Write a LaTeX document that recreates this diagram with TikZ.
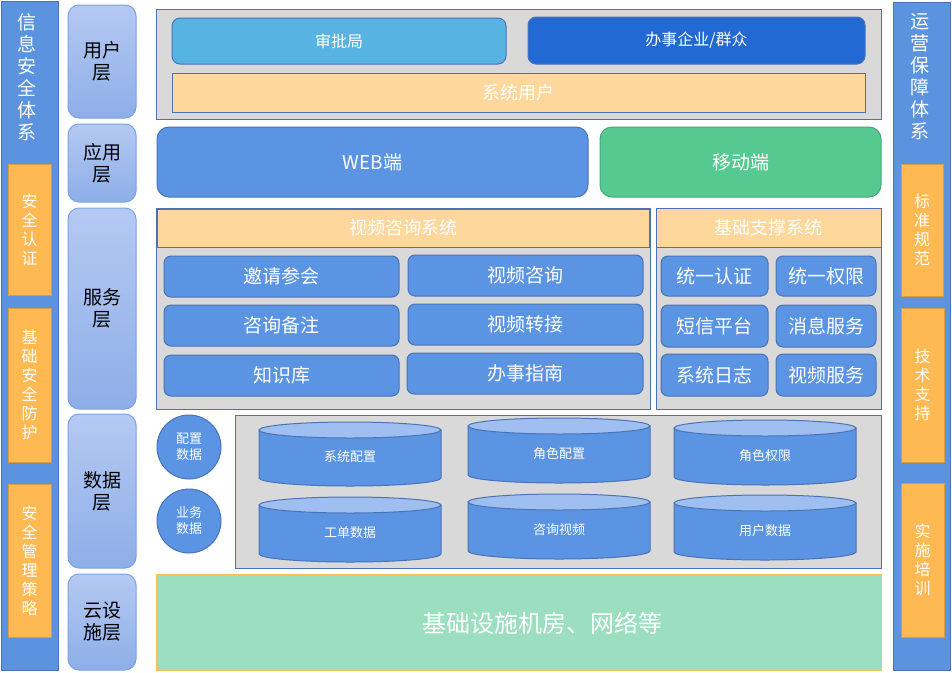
\documentclass[tikz,border=0pt]{standalone}
\usepackage{fontspec}
\setmainfont{Noto Sans CJK SC}
\definecolor{barblue}{HTML}{5B93DF}
\definecolor{barline}{HTML}{4A72B8}
\definecolor{orfill}{HTML}{FFB953}
\definecolor{orline}{HTML}{D99A45}
\definecolor{laytop}{HTML}{B5C9F2}
\definecolor{laybot}{HTML}{8EAEE8}
\definecolor{layline}{HTML}{7AA2E6}
\definecolor{graybg}{HTML}{D9D9D9}
\definecolor{frame}{HTML}{4A72B4}
\definecolor{skyblue}{HTML}{56B3E2}
\definecolor{deepblue}{HTML}{2369D3}
\definecolor{beige}{HTML}{FDD79B}
\definecolor{btnblue}{HTML}{5B94E2}
\definecolor{btnline}{HTML}{4A73B8}
\definecolor{mobgreen}{HTML}{55C98F}
\definecolor{mobline}{HTML}{48A77A}
\definecolor{cyltopc}{HTML}{9EBFEF}
\definecolor{cloudg}{HTML}{9BDFC0}
\definecolor{cloudline}{HTML}{FFBE55}
\tikzset{
  R/.style args={#1/#2/#3/#4}{anchor=north west, at={(#1,#2)},
    minimum width={(#3-#1)*1pt}, minimum height={(#4-#2)*1pt},
    inner sep=0pt, outer sep=0pt},
  sidebar/.style={draw=barline, fill=barblue, line width=1pt},
  sidetitle/.style={text=white, align=center, inner sep=0pt, font=\fontsize{19}{22}\selectfont},
  sidebox/.style={draw=orline, fill=orfill, line width=1pt, text=white, align=center,
    font=\fontsize{16}{19}\selectfont},
  layer/.style={draw=layline, top color=laytop, bottom color=laybot, rounded corners=11pt,
    line width=1pt, align=center, text=black, font=\fontsize{19}{22}\selectfont},
  panel/.style={draw=frame, fill=graybg, line width=1pt},
  header/.style={draw=frame, fill=beige, line width=1pt, text=white, font=\fontsize{18}{22}\selectfont},
  userbtn/.style={draw=btnline, rounded corners=8pt, line width=1pt, text=white,
    font=\fontsize{16}{20}\selectfont},
  appbtn/.style={draw=btnline, rounded corners=12pt, line width=1pt, text=white,
    font=\fontsize{19}{22}\selectfont},
  svc/.style={draw=btnline, fill=btnblue, rounded corners=7pt, line width=1pt, text=white,
    font=\fontsize{19}{22}\selectfont},
  datacirc/.style={circle, draw=btnline, fill=btnblue, line width=1pt, minimum size=64pt,
    inner sep=0pt, align=center, text=white, font=\fontsize{13}{16}\selectfont},
  cylbody/.style={draw=btnline, fill=btnblue, line width=1pt},
  cyltop/.style={draw=btnline, fill=cyltopc, line width=1pt},
  cyltext/.style={text=white, inner sep=0pt, font=\fontsize{13}{16}\selectfont},
  cloud/.style={draw=cloudline, fill=cloudg, line width=1pt},
  cloudtext/.style={text=white, inner sep=0pt, font=\fontsize{24}{28}\selectfont}
}
\newcommand\dbcyl[5]{%
  \path[cylbody] ({#2},{#3+8}) -- ({#2},{#4-8})
    arc[start angle=180, end angle=360, x radius=91pt, y radius=8pt]
    -- ({#2+182},{#3+8}) -- cycle;
  \path[cyltop] ({#2+91},{#3+8}) ellipse[x radius=91pt, y radius=8pt];
  \node[cyltext] (#1) at ({#2+91},{(#3+#4)/2+3}) {#5};
}
\begin{document}
\begin{tikzpicture}[x=1pt,y=-1pt]
\useasboundingbox (0,0) rectangle (952,672);
% left security bar
\node[sidebar, R=1/1/58/670] (lbar) {};
\node[sidetitle] (ltitle) at (27,77) {信\\息\\安\\全\\体\\系};
\node[sidebox, R=8/164/51/295] (l1) {安\\全\\认\\证};
\node[sidebox, R=8/308/51/462] (l2) {基\\础\\安\\全\\防\\护};
\node[sidebox, R=8/484/51/637] (l3) {安\\全\\管\\理\\策\\略};
% right operation bar
\node[sidebar, R=893/2/950/670] (rbar) {};
\node[sidetitle] (rtitle) at (920,77) {运\\营\\保\\障\\体\\系};
\node[sidebox, R=901/164/943/296] (r1) {标\\准\\规\\范};
\node[sidebox, R=901/308/944/462] (r2) {技\\术\\支\\持};
\node[sidebox, R=901/483/944/637] (r3) {实\\施\\培\\训};
% layer labels
\node[layer, R=68/5/136/118] (ly1) {用户\\层};
\node[layer, R=68/124/136/202] (ly2) {应用\\层};
\node[layer, R=68/208/136/409] (ly3) {服务\\层};
\node[layer, R=68/414/136/568] (ly4) {数据\\层};
\node[layer, R=68/574/136/670] (ly5) {云设\\施层};
% user layer
\node[panel, R=156/9/881/119] (userpanel) {};
\node[userbtn, fill=skyblue, R=172/18/506/64] (spj) {审批局};
\node[userbtn, fill=deepblue, R=528/17/865/64] (qz) {办事企业/群众};
\node[header, R=172/73/865/112] (sysuser) {系统用户};
% application layer
\node[appbtn, fill=btnblue, R=157/127/588/197] (web) {WEB端};
\node[appbtn, draw=mobline, fill=mobgreen, R=600/127/881/197] (mob) {移动端};
% service layer
\node[panel, R=156/208/650/409] (vpanel) {};
\node[header, R=157/209/649/247] (vhead) {视频咨询系统};
\node[svc, R=164/256/399/297] (s1) {邀请参会};
\node[svc, R=408/255/643/296] (s2) {视频咨询};
\node[svc, R=164/305/399/346] (s3) {咨询备注};
\node[svc, R=408/304/643/345] (s4) {视频转接};
\node[svc, R=164/355/399/396] (s5) {知识库};
\node[svc, R=407/353/643/394] (s6) {办事指南};
\node[panel, R=656/208/881/409] (bpanel) {};
\node[header, R=656/208/881/247] (bhead) {基础支撑系统};
\node[svc, R=661/256/768/296] (b1) {统一认证};
\node[svc, R=776/256/876/296] (b2) {统一权限};
\node[svc, R=661/305/768/347] (b3) {短信平台};
\node[svc, R=776/305/876/347] (b4) {消息服务};
\node[svc, R=661/354/768/396] (b5) {系统日志};
\node[svc, R=776/354/876/396] (b6) {视频服务};
% data layer
\node[datacirc] (c1) at (189,447) {配置\\数据};
\node[datacirc] (c2) at (189,521) {业务\\数据};
\node[panel, R=235/415/881/568] (dpanel) {};
\dbcyl{d1}{259}{422}{486}{系统配置}
\dbcyl{d2}{468}{418}{483}{角色配置}
\dbcyl{d3}{674}{420}{485}{角色权限}
\dbcyl{d4}{259}{497}{562}{工单数据}
\dbcyl{d5}{468}{494}{559}{咨询视频}
\dbcyl{d6}{674}{495}{560}{用户数据}
% cloud layer
\node[cloud, R=156/574/881/670] (cloudnode) {};
\node[cloudtext] (cloudlabel) at (542,623) {基础设施机房、网络等};
\end{tikzpicture}
\end{document}
